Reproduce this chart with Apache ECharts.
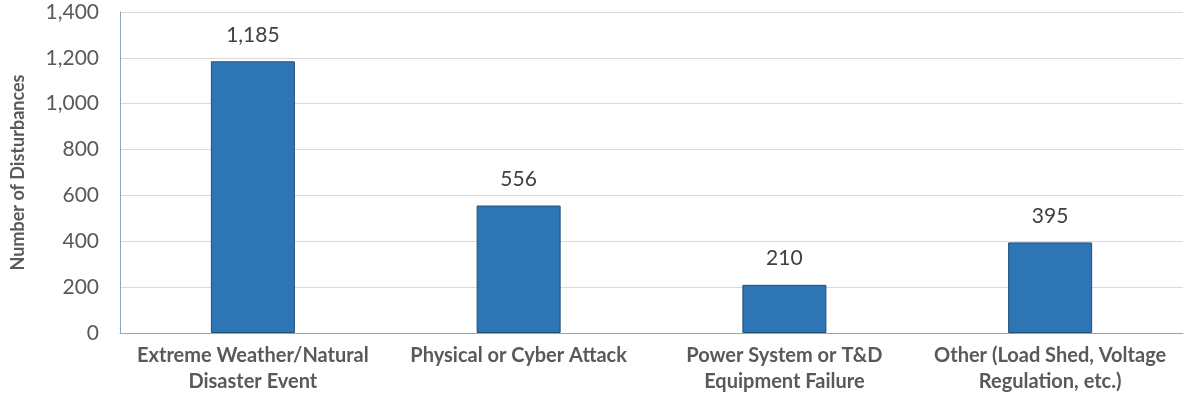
<!DOCTYPE html>
<html>
<head>
<meta charset="utf-8">
<script src="https://cdn.jsdelivr.net/npm/echarts@6/dist/echarts.min.js"></script>
<style>
  html, body { margin: 0; padding: 0; background: #fff; }
  #chart { width: 1191px; height: 397px; }
</style>
</head>
<body>
<div id="chart"></div>
<script>
const categories = [
  'Extreme Weather/Natural\nDisaster Event',
  'Physical or Cyber Attack',
  'Power System or T&D\nEquipment Failure',
  'Other (Load Shed, Voltage\nRegulation, etc.)'
];
const disturbances = [1185, 556, 210, 395];
const yTicks = [0, 200, 400, 600, 800, 1000, 1200, 1400];

const font = 'Lato, "Open Sans", sans-serif';
const chart = echarts.init(document.getElementById('chart'));

chart.setOption({
  animation: false,
  grid: { left: 120, right: 8, top: 12, bottom: 64 },
  xAxis: {
    type: 'category',
    data: categories,
    axisLine: { lineStyle: { color: '#8ba6c9', width: 1 } },
    axisTick: { show: false },
    axisLabel: {
      color: '#595959',
      fontFamily: font,
      fontWeight: 'bold',
      fontSize: 20,
      lineHeight: 26,
      margin: 10,
      interval: 0
    }
  },
  yAxis: {
    type: 'value',
    min: yTicks[0],
    max: yTicks[yTicks.length - 1],
    interval: 200,
    name: 'Number of Disturbances',
    nameLocation: 'middle',
    nameGap: 93,
    nameTextStyle: { color: '#595959', fontFamily: font, fontWeight: 'bold', fontSize: 18 },
    axisLine: { show: true, lineStyle: { color: '#8ba6c9', width: 1 } },
    axisTick: { show: false },
    splitLine: { lineStyle: { color: '#d9d9d9', width: 1 } },
    axisLabel: {
      color: '#595959',
      fontFamily: font,
      fontSize: 21,
      margin: 21,
      formatter: v => v.toLocaleString('en-US')
    }
  },
  series: [{
    type: 'bar',
    data: disturbances,
    barWidth: 84,
    itemStyle: { color: '#2e75b6', borderColor: '#1f4e79', borderWidth: 1 },
    label: {
      show: true,
      position: 'top',
      distance: 16,
      color: '#404040',
      fontFamily: font,
      fontSize: 21,
      formatter: p => p.value.toLocaleString('en-US')
    }
  }]
});
</script>
</body>
</html>
